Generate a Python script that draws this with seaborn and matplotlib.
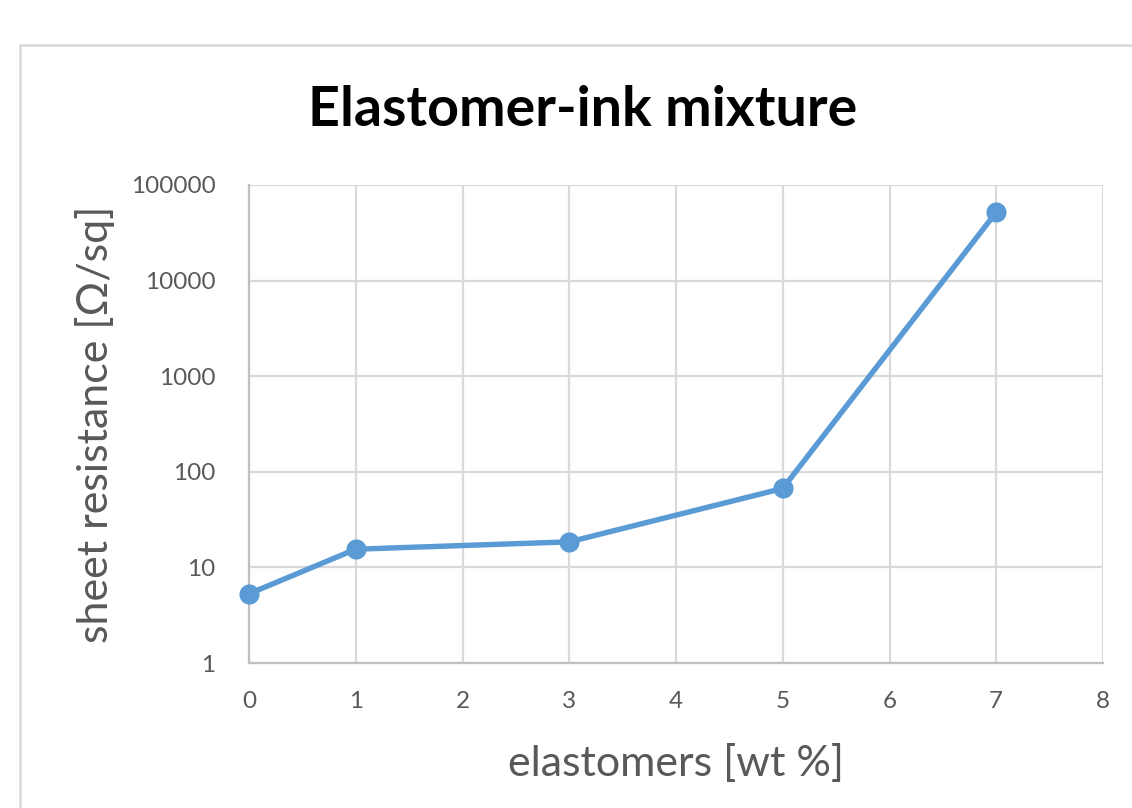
import matplotlib
matplotlib.use("Agg")
import matplotlib.pyplot as plt
import matplotlib.ticker as mticker
from matplotlib.patches import Rectangle
import seaborn as sns
import pandas as pd

# Sheet resistance measurements for elastomer content in the ink
elastomer_wt = [0, 1, 3, 5, 7]
sheet_resistance = [5.3, 15.5, 18.5, 67, 52000]
x_ticks = [0, 1, 2, 3, 4, 5, 6, 7, 8]
y_ticks = [1, 10, 100, 1000, 10000, 100000]
y_tick_labels = ["1", "10", "100", "1000", "10000", "100000"]

sns.set_theme(style="white")
plt.rcParams["font.family"] = ["Lato", "DejaVu Sans"]

df = pd.DataFrame({"wt": elastomer_wt, "R": sheet_resistance})

fig = plt.figure(figsize=(11.32, 8.08), dpi=100)
ax = fig.add_axes([249 / 1132, 1 - 663 / 808, (1103 - 249) / 1132, (663 - 185) / 808])

grid_c = "#d9d9d9"
text_c = "#595959"
line_c = "#5b9bd5"

sns.lineplot(data=df, x="wt", y="R", ax=ax, color=line_c, linewidth=3.9,
             marker="o", markersize=14.5, markeredgewidth=0, zorder=5,
             clip_on=False)

ax.set_yscale("log")
ax.set_xlim(0, 8)
ax.set_ylim(1, 100000)
ax.set_xticks(x_ticks)
ax.set_xticklabels([str(v) for v in x_ticks])
ax.set_yticks(y_ticks)
ax.set_yticklabels(y_tick_labels)
ax.yaxis.set_minor_locator(mticker.NullLocator())

ax.grid(True, which="major", color=grid_c, linewidth=1.6)
for side in ["top", "right"]:
    ax.spines[side].set_visible(False)
ax.spines["left"].set_color("#bfbfbf")
ax.spines["bottom"].set_color("#bfbfbf")
ax.spines["left"].set_linewidth(1.6)
ax.spines["bottom"].set_linewidth(1.6)

ax.tick_params(axis="both", length=0, labelsize=17.5, labelcolor=text_c)
ax.tick_params(axis="y", pad=24)
ax.tick_params(axis="x", pad=20)
ax.set_xlabel("")
ax.set_ylabel("")

fig.text(95 / 1132, 1 - 424 / 808, "sheet resistance [\u03a9/sq]", rotation=90,
         ha="center", va="center", fontsize=31, color=text_c)
fig.text(676 / 1132, 1 - 763 / 808, "elastomers [wt %]",
         ha="center", va="center", fontsize=31, color=text_c)
fig.text(583 / 1132, 1 - 110 / 808, "Elastomer-ink mixture",
         ha="center", va="center", fontsize=40, fontweight="bold", color="black")

# Chart frame
fig.patches.append(Rectangle((20 / 1132, -0.1), 1.2, 1 - 45 / 808 + 0.1,
                             transform=fig.transFigure, fill=False,
                             edgecolor=grid_c, linewidth=1.8))

fig.savefig("out.png", dpi=100, facecolor="white")
